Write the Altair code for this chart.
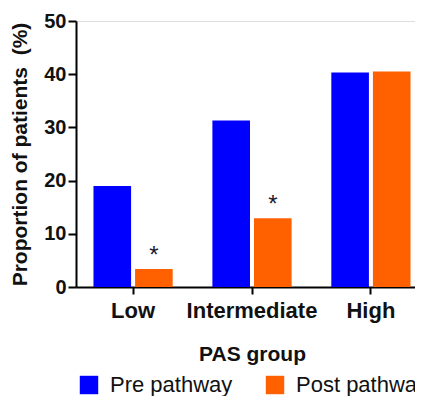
import altair as alt
import pandas as pd

groups = ["Low", "Intermediate", "High"]
series = ["Pre pathway", "Post pathway"]
pre_values = [19.0, 31.3, 40.3]
post_values = [3.4, 12.9, 40.5]
stars = ["", "", ""]
post_stars = ["*", "*", ""]

rows = []
for i, g in enumerate(groups):
    rows.append({"group": g, "series": series[0], "value": pre_values[i], "star": stars[i]})
    rows.append({"group": g, "series": series[1], "value": post_values[i], "star": post_stars[i]})
df = pd.DataFrame(rows)

FONT = "Liberation Sans"

x = alt.X("group:N", sort=groups, title="PAS group",
          scale=alt.Scale(paddingInner=0.04, paddingOuter=0.0, range=[0, 352]),
          axis=alt.Axis(labelAngle=0, labelFontSize=22, labelFontWeight="bold",
                        titleFontSize=21, titleFontWeight="bold", titlePadding=22,
                        tickSize=7, tickWidth=2, domainWidth=2, labelPadding=6,
                        domainColor="black", tickColor="black", labelColor="#111111",
                        titleColor="#111111", labelLimit=300))
xo = alt.XOffset("series:N", sort=series,
                 scale=alt.Scale(paddingInner=0.096, paddingOuter=0.42))
y = alt.Y("value:Q", title="Proportion of patients\u00a0\u00a0(%)",
          scale=alt.Scale(domain=[0, 50], nice=False),
          axis=alt.Axis(values=[0, 10, 20, 30, 40, 50], grid=False,
                        labelFontSize=20, labelFontWeight="bold",
                        titleFontSize=21, titleFontWeight="bold", titlePadding=13,
                        tickSize=8, tickWidth=2, domainWidth=2, labelPadding=2,
                        domainColor="black", tickColor="black", labelColor="#111111",
                        titleColor="#111111"))

color = alt.Color("series:N", sort=series, title=None,
                  scale=alt.Scale(domain=series, range=["#0000FF", "#FF6000"]),
                  legend=alt.Legend(orient="none", direction="horizontal",
                                    legendX=2, legendY=353, padding=0,
                                    symbolType="square",
                                    symbolSize=340, symbolStrokeWidth=0,
                                    labelFontSize=22, labelOffset=10,
                                    columnPadding=31, labelColor="#111111",
                                    labelLimit=300))

bars = alt.Chart(df).mark_bar(strokeWidth=0).encode(x=x, xOffset=xo, y=y, color=color)

text = alt.Chart(df).mark_text(dy=-13, fontSize=24, font=FONT, color="#1a1a2e").encode(
    x=alt.X("group:N", sort=groups),
    xOffset=xo,
    y="value:Q",
    text="star:N",
)

chart = alt.layer(bars, text).properties(
    width=339, height=266,
    autosize=alt.AutoSizeParams(type="none"),
    padding={"left": 68, "top": 13, "right": 0, "bottom": 109},
).configure_view(stroke=None).configure(font=FONT).configure_axis(labelFont=FONT, titleFont=FONT)

chart.save("out.html", embed_options={"renderer": "svg", "actions": False})
